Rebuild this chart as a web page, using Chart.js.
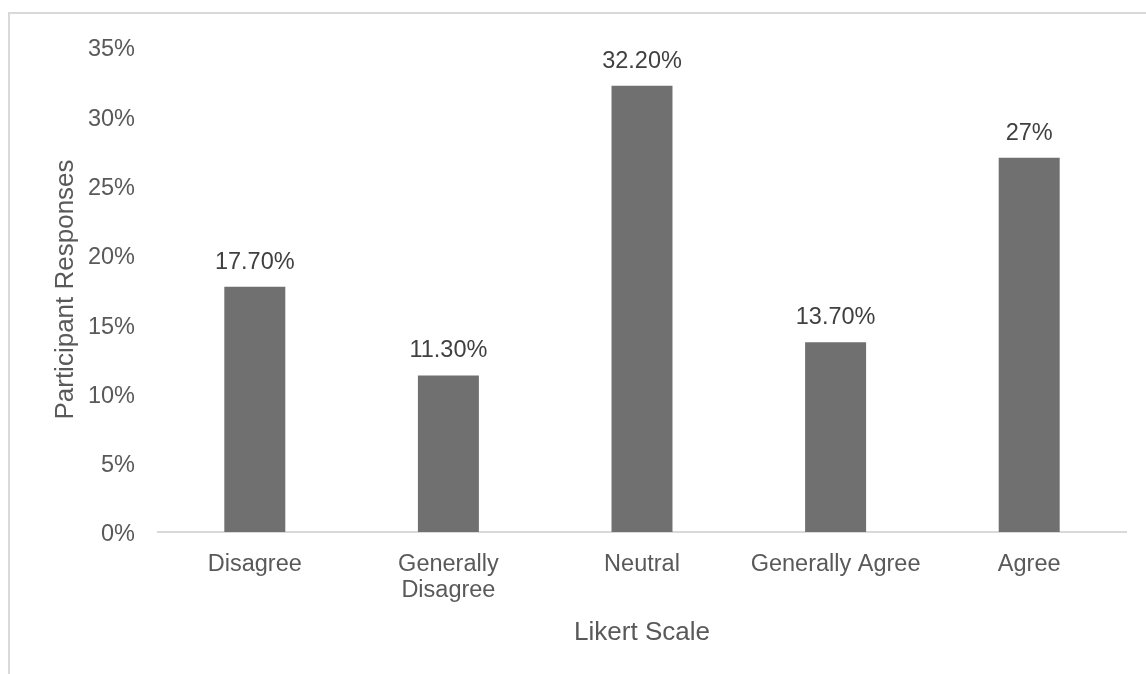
<!DOCTYPE html>
<html>
<head>
<meta charset="utf-8">
<title>Participant Responses by Likert Scale</title>
<script src="https://cdn.jsdelivr.net/npm/chart.js@4"></script>
<style>
  html, body { margin: 0; padding: 0; background: #fff; overflow: hidden; }
  .frame {
    position: absolute; left: 8px; top: 12px;
    width: 1200px; height: 700px;
    border: 2px solid #d9d9d9; box-sizing: border-box;
  }
  .wrap { position: absolute; left: 0; top: 0; width: 1146px; height: 674px; }
</style>
</head>
<body>
<div class="frame"></div>
<div class="wrap"><canvas id="likertChart"></canvas></div>
<script>
// ── Data ──────────────────────────────────────────────────────────
const categories = ['Disagree', ['Generally', 'Disagree'], 'Neutral', 'Generally Agree', 'Agree'];
const responses = [17.7, 11.3, 32.2, 13.7, 27];
const yTicks = [0, 5, 10, 15, 20, 25, 30, 35];

const FONT = "'Liberation Sans', Arial, sans-serif";
const TEXT = '#595959';

// percentages as printed above the bars
function pctLabel(v) {
  return Number.isInteger(v) ? v + '%' : v.toFixed(2) + '%';
}

// ── Value labels above each bar ───────────────────────────────────
const barValueLabels = {
  id: 'barValueLabels',
  afterDatasetsDraw(chart) {
    const { ctx } = chart;
    const meta = chart.getDatasetMeta(0);
    ctx.save();
    ctx.font = `23.5px ${FONT}`;
    ctx.fillStyle = '#404040';
    ctx.textAlign = 'center';
    ctx.textBaseline = 'alphabetic';
    meta.data.forEach((bar, i) => {
      ctx.fillText(pctLabel(responses[i]), bar.x, bar.y - 18);
    });
    ctx.restore();
  },
};

// ── Bar Chart ─────────────────────────────────────────────────────
const ctx = document.getElementById('likertChart').getContext('2d');
new Chart(ctx, {
  type: 'bar',
  data: {
    labels: categories,
    datasets: [{
      data: responses,
      backgroundColor: '#707070',
      borderWidth: 0,
      categoryPercentage: 1,
      barPercentage: 0.315,
    }],
  },
  options: {
    responsive: true,
    maintainAspectRatio: false,
    animation: false,
    layout: { padding: { left: 0, top: 47, right: 20, bottom: 0 } },
    plugins: {
      legend: { display: false },
      tooltip: { enabled: false },
    },
    scales: {
      x: {
        grid: { display: false, drawTicks: false },
        border: { display: true, color: '#d9d9d9', width: 2 },
        ticks: {
          color: TEXT,
          font: { family: FONT, size: 23.5, lineHeight: 1.1 },
          padding: 20,
          maxRotation: 0,
          autoSkip: false,
        },
        title: {
          display: true,
          text: 'Likert Scale',
          color: TEXT,
          font: { family: FONT, size: 26, lineHeight: 1.2 },
          padding: { top: 0, bottom: 26 },
        },
        afterFit: (scale) => { scale.height = 142; },
      },
      y: {
        min: 0,
        max: 35,
        afterBuildTicks: (scale) => { scale.ticks = yTicks.map(v => ({ value: v })); },
        grid: { display: false, drawTicks: false },
        border: { display: false },
        ticks: {
          color: TEXT,
          font: { family: FONT, size: 23.5 },
          padding: 23,
          labelOffset: 3,
          callback: (v) => v + '%',
        },
        title: {
          display: true,
          text: 'Participant Responses',
          color: TEXT,
          font: { family: FONT, size: 26, lineHeight: 1.2 },
          padding: { top: 50, bottom: 0 },
        },
        afterFit: (scale) => { scale.width = 158; },
      },
    },
  },
  plugins: [barValueLabels],
});
</script>
</body>
</html>
